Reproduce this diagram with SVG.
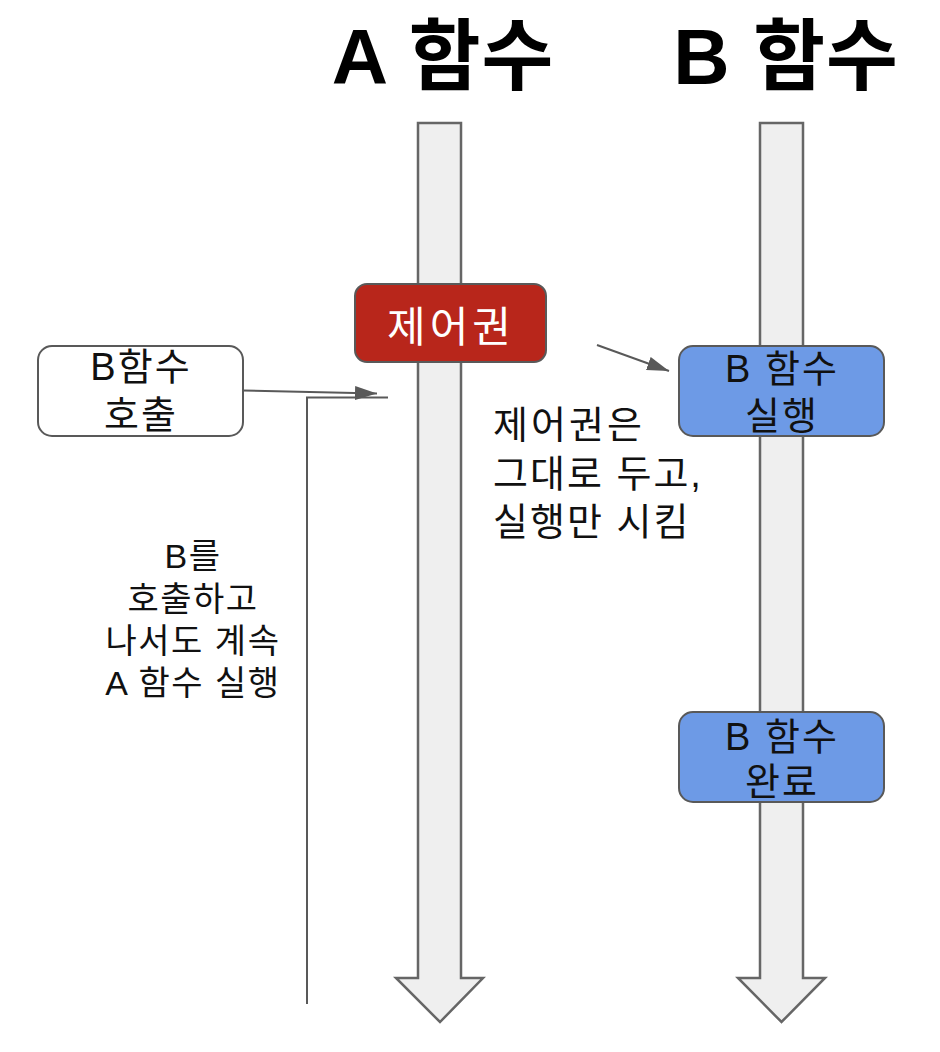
<svg xmlns="http://www.w3.org/2000/svg" width="940" height="1052" viewBox="0 0 940 1052">
<style>
.title{font-family:"Liberation Sans","Noto Sans CJK KR",sans-serif;font-weight:bold;font-size:78px;fill:#000;text-anchor:middle;letter-spacing:1px}
.lbl{font-family:"Liberation Sans","Noto Sans CJK KR",sans-serif;font-size:38px;fill:#111;text-anchor:middle;letter-spacing:2px}
.note{font-family:"Liberation Sans","Noto Sans CJK KR",sans-serif;fill:#111}
.shaft{fill:#efefef;stroke:#666;stroke-width:2.5;stroke-linejoin:miter}
.box{stroke:#595959;stroke-width:2}
.conn{fill:none;stroke:#595959;stroke-width:2}
</style>
<defs>
<marker id="ah" markerUnits="userSpaceOnUse" markerWidth="24" markerHeight="14" refX="22" refY="7" orient="auto">
<path d="M0,0 L22,7 L0,14 Z" fill="#595959"/>
</marker>
</defs>
<rect width="940" height="1052" fill="#fff"/>
<g id="title-a"><text class="title" x="443" y="84">A 함수</text></g>
<g id="title-b"><text class="title" x="786" y="84">B 함수</text></g>
<g id="lane-a"><path class="shaft" d="M418,123 H461 V978 H483 L440,1022 L396,978 H418 Z"/></g>
<g id="lane-b"><path class="shaft" d="M760,123 H803 V978 H825 L781.5,1022 L738,978 H760 Z"/></g>
<g id="control">
<rect class="box" x="355" y="284" width="191" height="78" rx="12" fill="#b8261b"/>
<text x="451" y="342" font-family="Liberation Sans, Noto Sans CJK KR, sans-serif" font-size="42" letter-spacing="4" fill="#fff" text-anchor="middle">제어권</text>
</g>
<g id="call-b">
<rect class="box" x="38" y="346" width="205" height="90" rx="14" fill="#fff"/>
<text class="lbl" x="141" y="380">B함수</text>
<text class="lbl" x="141" y="428">호출</text>
</g>
<g id="run-b">
<rect class="box" x="679" y="346" width="205" height="90" rx="14" fill="#6d9ae6"/>
<text class="lbl" x="782" y="382">B 함수</text>
<text class="lbl" x="782" y="429">실행</text>
</g>
<g id="done-b">
<rect class="box" x="679" y="712" width="205" height="90" rx="14" fill="#6d9ae6"/>
<text class="lbl" x="782" y="750">B 함수</text>
<text class="lbl" x="782" y="795">완료</text>
</g>
<g id="note-control">
<text class="note" font-size="38" letter-spacing="3" x="493" y="438">제어권은</text>
<text class="note" font-size="38" letter-spacing="2" x="493" y="487">그대로 두고,</text>
<text class="note" font-size="38" letter-spacing="2" x="493" y="535">실행만 시킴</text>
</g>
<g id="note-continue">
<text class="note" font-size="34" letter-spacing="1.5" text-anchor="middle" x="193" y="568">B를</text>
<text class="note" font-size="34" letter-spacing="1.5" text-anchor="middle" x="193" y="611">호출하고</text>
<text class="note" font-size="34" letter-spacing="1.5" text-anchor="middle" x="193" y="653">나서도 계속</text>
<text class="note" font-size="34" letter-spacing="1.5" text-anchor="middle" x="193" y="695">A 함수 실행</text>
</g>
<g id="connectors">
<path class="conn" d="M243,390.5 L377,393.5" marker-end="url(#ah)"/>
<path class="conn" d="M307,1004 V397.5 H388"/>
<path class="conn" d="M597,345 L669,371" marker-end="url(#ah)"/>
</g>
</svg>
